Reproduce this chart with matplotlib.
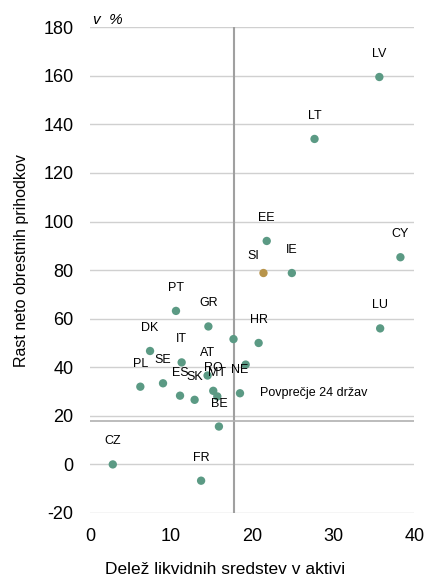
import matplotlib.pyplot as plt

plt.rcParams["font.family"] = ["Liberation Sans", "DejaVu Sans"]
plt.rcParams["axes.unicode_minus"] = False

# data
countries = ["LV", "LT", "EE", "SI", "IE", "CY", "LU", "HR", "PT", "GR", "", "DK",
             "IT", "", "PL", "SE", "ES", "SK", "AT", "RO", "MT", "NE", "BE", "CZ", "FR"]
liquid_share = [35.7, 27.7, 21.8, 21.4, 24.9, 38.3, 35.8, 20.8, 10.6, 14.6, 17.7, 7.4,
                11.3, 19.2, 6.2, 9.0, 11.1, 12.9, 14.5, 15.2, 15.7, 18.5, 15.9, 2.8, 13.7]
nii_growth = [159.5, 134.0, 92.0, 78.8, 78.8, 85.3, 56.0, 50.0, 63.2, 56.8, 51.6, 46.7,
              42.0, 41.1, 32.0, 33.4, 28.3, 26.6, 36.6, 30.3, 28.0, 29.3, 15.6, 0.0, -6.7]
avg_x = 17.7
avg_y = 17.8
avg_label = "Povprečje 24 držav"
highlight = "SI"

green = "#5b9a84"
brown = "#b8944a"

fig = plt.figure(figsize=(4.27, 5.79), dpi=100)
ax = fig.add_axes([0.211, 0.114, 0.759, 0.839])

ax.set_xlim(0, 40)
ax.set_ylim(-20, 180)
ax.set_xticks(range(0, 41, 10))
ax.set_yticks(range(-20, 181, 20))
ax.grid(axis="y", color="#d0d0d0", linewidth=1)
ax.set_axisbelow(True)
for s in ax.spines.values():
    s.set_visible(False)
ax.tick_params(length=0, labelsize=13)
ax.tick_params(axis="x", pad=11)
ax.tick_params(axis="y", pad=12)

ax.axvline(avg_x, color="#a0a0a0", linewidth=1.5, zorder=1)
ax.axhline(avg_y, color="#b0b0b0", linewidth=1.2, zorder=1)

colors = [brown if c == highlight else green for c in countries]
ax.scatter(liquid_share, nii_growth, s=36, c=colors, zorder=3, linewidths=0)

for c, x, y in zip(countries, liquid_share, nii_growth):
    if not c:
        continue
    off = (-10.5, 17.5) if c == highlight else (0, 23)
    ax.annotate(c, (x, y), xytext=off, textcoords="offset pixels",
                ha="center", va="center", fontsize=9)
    if c == "NE":
        ax.annotate(avg_label, (x, y), xytext=(20.5, 0), textcoords="offset pixels",
                    ha="left", va="center", fontsize=9)

ax.text(0.01, 1.0, "v  %", transform=ax.transAxes, fontsize=11, style="italic",
        ha="left", va="bottom")
ax.set_xlabel("Delež likvidnih sredstev v aktivi", fontsize=12.5)
ax.set_ylabel("Rast neto obrestnih prihodkov", fontsize=11.5)
ax.xaxis.set_label_coords(0.417, -0.101)
ax.yaxis.set_label_coords(-0.19, 0.52)

fig.savefig("out.png", dpi=100)
